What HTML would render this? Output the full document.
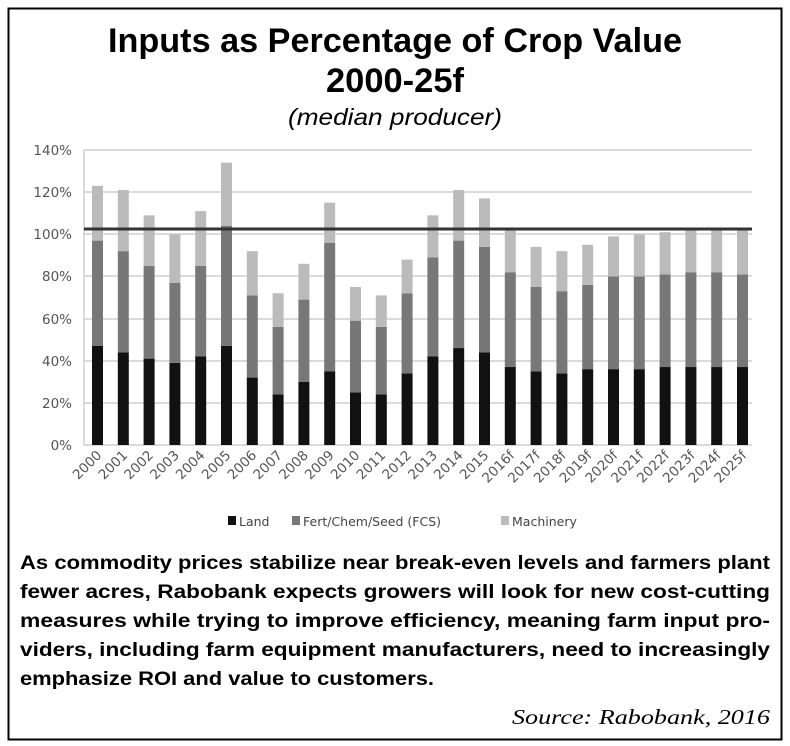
<!DOCTYPE html>
<html><head><meta charset="utf-8"><style>
body{margin:0;background:#fff;}
svg{display:block;}
</style></head><body>
<svg width="790" height="746" viewBox="0 0 790 746" xmlns="http://www.w3.org/2000/svg">
<rect x="8.5" y="8.5" width="773" height="731" fill="#fff" stroke="#000" stroke-width="2"/>
<g font-family="Liberation Sans, sans-serif" font-weight="bold" fill="#000" text-anchor="middle">
<text x="395" y="52" font-size="34" textLength="574" lengthAdjust="spacingAndGlyphs">Inputs as Percentage of Crop Value</text>
<text x="395" y="92" font-size="34" textLength="138" lengthAdjust="spacingAndGlyphs">2000-25f</text>
</g>
<text x="395" y="125" font-family="Liberation Sans, sans-serif" font-style="italic" font-size="23" text-anchor="middle" textLength="214" lengthAdjust="spacingAndGlyphs">(median producer)</text>
<g stroke="#cfcfcf" stroke-width="1.5">
<line x1="84" y1="150" x2="752" y2="150"/><line x1="84" y1="192" x2="752" y2="192"/>
<line x1="84" y1="234" x2="752" y2="234"/><line x1="84" y1="276" x2="752" y2="276"/>
<line x1="84" y1="319" x2="752" y2="319"/><line x1="84" y1="361" x2="752" y2="361"/>
<line x1="84" y1="403" x2="752" y2="403"/><line x1="84" y1="445" x2="752" y2="445"/>
<line x1="84" y1="150" x2="84" y2="445"/>
</g>
<g font-family="DejaVu Sans, sans-serif" font-size="13.5" fill="#555" text-anchor="end">
<text x="72" y="155">140%</text><text x="72" y="197">120%</text><text x="72" y="239">100%</text>
<text x="72" y="281">80%</text><text x="72" y="324">60%</text><text x="72" y="366">40%</text>
<text x="72" y="408">20%</text><text x="72" y="450">0%</text>
</g>
<g id="bars"></g>
<line x1="84" y1="229" x2="752" y2="229" stroke="#333" stroke-width="3"/>
<g id="xl" font-family="DejaVu Sans, sans-serif" font-size="13.5" fill="#555" text-anchor="end"></g>
<g font-family="DejaVu Sans, sans-serif" font-size="12.5" fill="#444">
<rect x="228" y="516" width="8" height="9" fill="#111"/><text x="239" y="526">Land</text>
<rect x="292" y="516" width="8" height="9" fill="#777"/><text x="303" y="526">Fert/Chem/Seed (FCS)</text>
<rect x="501" y="516" width="8" height="9" fill="#bbb"/><text x="512" y="526">Machinery</text>
</g>
<g font-family="Liberation Sans, sans-serif" font-weight="bold" font-size="19" fill="#000">
<text x="20" y="569" textLength="750" lengthAdjust="spacingAndGlyphs">As commodity prices stabilize near break-even levels and farmers plant</text>
<text x="20" y="598" textLength="750" lengthAdjust="spacingAndGlyphs">fewer acres, Rabobank expects growers will look for new cost-cutting</text>
<text x="20" y="627" textLength="750" lengthAdjust="spacingAndGlyphs">measures while trying to improve efficiency, meaning farm input pro-</text>
<text x="20" y="656" textLength="750" lengthAdjust="spacingAndGlyphs">viders, including farm equipment manufacturers, need to increasingly</text>
<text x="20" y="685" textLength="414" lengthAdjust="spacingAndGlyphs">emphasize ROI and value to customers.</text>
</g>
<text x="770" y="724" font-family="Liberation Serif, serif" font-style="italic" font-size="21" text-anchor="end" textLength="258" lengthAdjust="spacingAndGlyphs">Source: Rabobank, 2016</text>
<script>
var d=[[47,97,123],[44,92,121],[41,85,109],[39,77,100],[42,85,111],[47,104,134],[32,71,92],[24,56,72],[30,69,86],[35,96,115],[25,59,75],[24,56,71],[34,72,88],[42,89,109],[46,97,121],[44,94,117],[37,82,102],[35,75,94],[34,73,92],[36,76,95],[36,80,99],[36,80,100],[37,81,101],[37,82,102],[37,82,102],[37,81,102]];
var lab=["2000","2001","2002","2003","2004","2005","2006","2007","2008","2009","2010","2011","2012","2013","2014","2015","2016f","2017f","2018f","2019f","2020f","2021f","2022f","2023f","2024f","2025f"];
var ns="http://www.w3.org/2000/svg",g=document.getElementById("bars"),xl=document.getElementById("xl");
function Y(v){return 445-v*295/140;}
function r(x,y1,y2,c){var e=document.createElementNS(ns,"rect");e.setAttribute("x",x);e.setAttribute("y",Y(y2));e.setAttribute("width",11);e.setAttribute("height",Y(y1)-Y(y2));e.setAttribute("fill",c);g.appendChild(e);}
d.forEach(function(v,i){var cx=97.5+i*25.8,x=cx-5.5;r(x,0,v[0],"#111");r(x,v[0],v[1],"#777");r(x,v[1],v[2],"#bbb");
var t=document.createElementNS(ns,"text");t.setAttribute("transform","translate("+(cx+5)+",456) rotate(-45)");t.textContent=lab[i];xl.appendChild(t);});
</script>
</svg>
</body></html>
